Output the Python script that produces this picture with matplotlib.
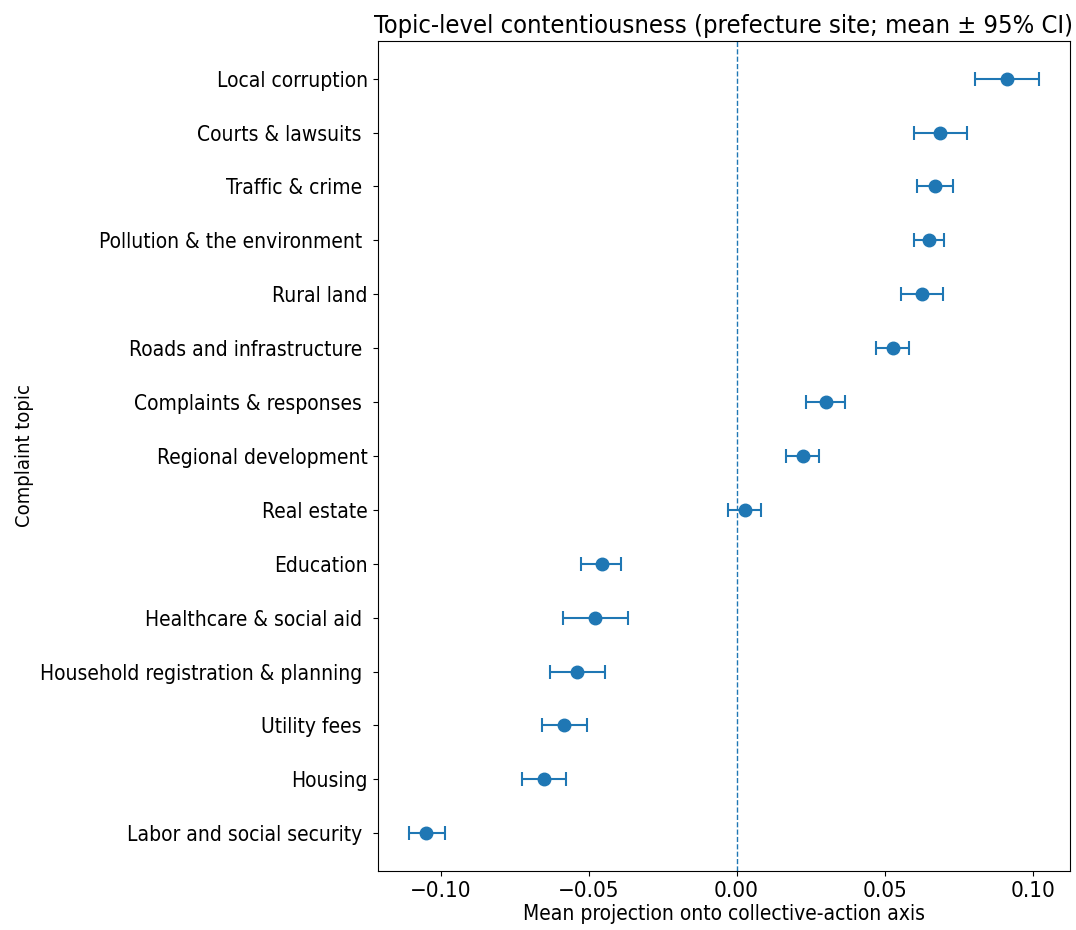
import numpy as np
import matplotlib
matplotlib.use("Agg")
import matplotlib.pyplot as plt

plt.rcParams["font.family"] = ["DejaVu Sans"]
plt.rcParams["font.stretch"] = "condensed"

# topics, top to bottom
topics = [
    "Local corruption", "Courts & lawsuits ", "Traffic & crime ",
    "Pollution & the environment ", "Rural land", "Roads and infrastructure ",
    "Complaints & responses ", "Regional development", "Real estate",
    "Education", "Healthcare & social aid ", "Household registration & planning ",
    "Utility fees ", "Housing", "Labor and social security ",
]
means = [0.0913, 0.0687, 0.0670, 0.0650, 0.0625, 0.0528, 0.0301, 0.0223, 0.0029,
         -0.0456, -0.0477, -0.0538, -0.0582, -0.0649, -0.1050]
ci_lo = [0.0805, 0.0598, 0.0611, 0.0598, 0.0554, 0.0472, 0.0236, 0.0167, -0.0029,
         -0.0525, -0.0585, -0.0629, -0.0656, -0.0724, -0.1106]
ci_hi = [0.1020, 0.0777, 0.0731, 0.0701, 0.0698, 0.0581, 0.0365, 0.0278, 0.0083,
         -0.0392, -0.0367, -0.0445, -0.0506, -0.0575, -0.0984]

means = np.array(means)
err = [means - np.array(ci_lo), np.array(ci_hi) - means]
y = np.arange(len(topics))[::-1]

fig = plt.figure(figsize=(10.76, 9.3), dpi=100)
ax = fig.add_axes([0.351, 0.0634, 0.6434, 0.8926])

ax.errorbar(means, y, xerr=err, fmt="o", color="#1f77b4", markersize=9,
            capsize=5, elinewidth=1.5, capthick=1.5)
ax.axvline(0, linestyle="--", linewidth=1, color="#1f77b4")

ax.set_yticks(y)
ax.set_yticklabels(topics, fontsize=15)
ax.tick_params(axis="x", labelsize=16)
ax.set_xlabel("Mean projection onto collective-action axis", fontsize=15, labelpad=2)
ax.set_ylabel("Complaint topic", fontsize=14.5)
ax.set_title("Topic-level contentiousness (prefecture site; mean \u00b1 95% CI)", fontsize=18.3)

fig.savefig("out.png", dpi=100)
